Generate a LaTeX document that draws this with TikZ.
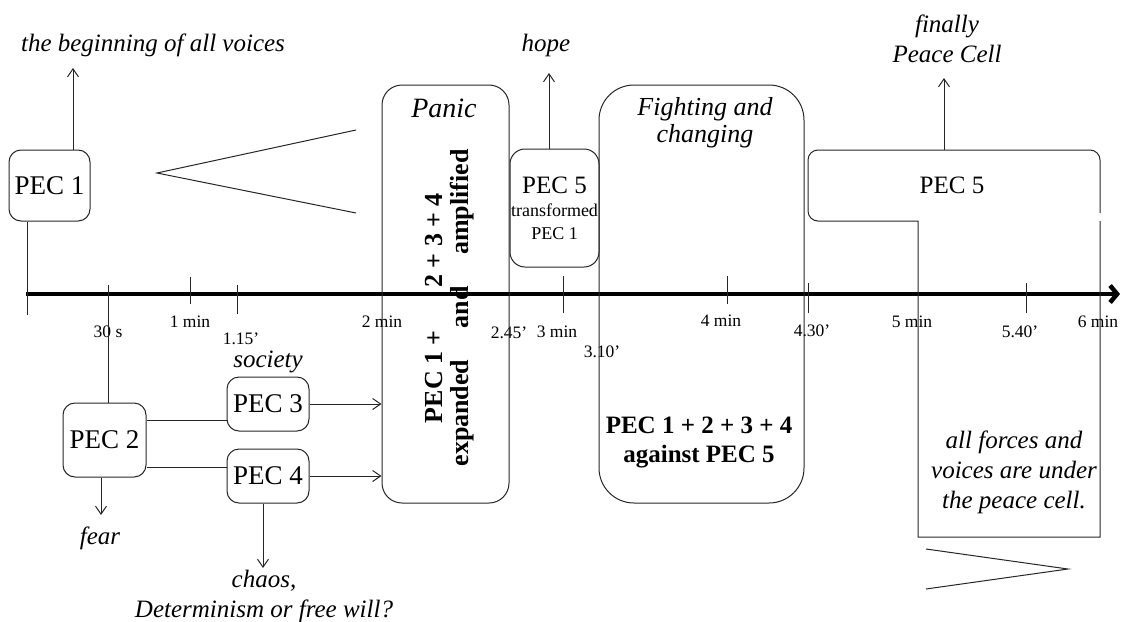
\documentclass[tikz,border=0pt]{standalone}
\usepackage{fontspec}
\setmainfont{Liberation Serif}
\usetikzlibrary{arrows.meta}

\tikzset{
  ln/.style={line width=1pt, draw=black!85},
  pec/.style={ln, rounded corners=12pt, inner sep=0pt, font=\fontsize{27}{30}\selectfont},
  stage/.style={ln, inner sep=0pt},
  lbl/.style={inner sep=0pt, align=center, font=\fontsize{25}{30}\selectfont\itshape},
  tk/.style={inner sep=0pt, anchor=base, font=\fontsize{17.5}{20}\selectfont},
  arr/.style={ln, -{Straight Barb[length=8pt,width=11pt]}},
  timeline/.style={line width=4.5pt, -{Straight Barb[length=7pt,width=17pt]}},
}

\begin{document}
\begin{tikzpicture}[x=1pt,y=-1pt]
\useasboundingbox (0,0) rectangle (1124,621);

% time axis
\coordinate (ax0) at (26,294);
\coordinate (ax1) at (1120,294);
\draw[timeline] (ax0) -- (ax1);
\foreach \x/\a/\b in {190/277/304, 237/285/314, 563/276/313, 727/276/304, 808/283/313, 1026/283/313}
  \draw[ln] (\x,\a) -- (\x,\b);
\foreach \x/\y/\t in {108/337/30 s, 190/327/1 min, 241/344/1.15’, 382/327/2 min, 509/338/2.45’, 557/337/3 min, 602/357/3.10’, 721/326/4 min, 812/336/4.30’, 912/327/5 min, 1020/337/5.40’, 1098/327/6 min}
  \node[tk] (tk\x) at (\x,\y) {\t};

% cells
\node[pec, minimum width=81pt, minimum height=71pt] (pec1) at (49.5,185.5) {PEC 1};
\node[pec, minimum width=83pt, minimum height=74pt] (pec2) at (104.5,440) {PEC 2};
\node[pec, minimum width=82pt, minimum height=54pt] (pec3) at (268,404) {PEC 3};
\node[pec, minimum width=82pt, minimum height=54pt] (pec4) at (268,476) {PEC 4};
\node[pec, rounded corners=15pt, minimum width=89pt, minimum height=118pt, align=center,
  font=\fontsize{18}{23}\selectfont] (pec5a) at (554.5,208)
  {{\fontsize{25}{23}\selectfont PEC 5}\\transformed\\PEC 1};
\node[stage, rounded corners=20pt, minimum width=127pt, minimum height=418pt] (panic) at (445.5,294) {};
\node[stage, rounded corners=35pt, minimum width=205pt, minimum height=418pt] (fight) at (701.5,294) {};

% last cell
\draw[ln] (1100,213) [rounded corners=10pt] -- (1100,150) -- (808,150) -- (808,221)
  [sharp corners] -- (918,221) -- (918,537) -- (1100,537) -- (1100,221);
\node[inner sep=0pt, font=\fontsize{25}{30}\selectfont] (pec5b) at (952,185) {PEC 5};

% texts
\node[lbl] (voices) at (153,45) {the beginning of all voices};
\node[lbl] (hope) at (546,45) {hope};
\node[lbl] (final) at (947,39) {finally\\Peace Cell};
\node[lbl, font=\fontsize{28}{30}\selectfont\itshape] (panictxt) at (444,108) {Panic};
\node[lbl, font=\fontsize{26}{27}\selectfont\itshape] (fighttxt) at (705,123) {Fighting and\\changing};
\node[inner sep=0pt, rotate=90, align=center, font=\fontsize{26}{26}\selectfont\bfseries] (amp) at (449.5,308)
  {\makebox[230pt]{PEC 1 +\hfill 2 + 3 + 4}\\\makebox[317pt]{expanded\hfill and\hfill amplified}};
\node[inner sep=0pt, align=center, font=\fontsize{25}{29}\selectfont\bfseries] (against) at (699,442)
  {PEC 1 + 2 + 3 + 4\\against PEC 5};
\node[lbl] (society) at (268,362) {society};
\node[lbl] (fear) at (100,538) {fear};
\node[lbl] (chaos) at (264,596) {chaos,\\Determinism or free will?};
\node[lbl] (under) at (1014,472) {all forces and\\voices are under\\the peace cell.};

% connectors
\coordinate (c0) at (27,315);
\coordinate (c30) at (108,285);
\coordinate (e1) at (73,68);
\coordinate (e2) at (101,515);
\coordinate (e4) at (263,568);
\coordinate (e5) at (549,73);
\coordinate (top5) at (944,150);
\coordinate (e6) at (944,78);
\coordinate (j3) at ([yshift=-16pt]pec3.west);
\coordinate (j4) at ([yshift=9pt]pec4.west);
\draw[ln] (c0) -- (c0 |- pec1.south);
\draw[ln] (c30) -- (c30 |- pec2.north);
\draw[arr] (e1 |- pec1.north) -- (e1);
\draw[arr] (e2 |- pec2.south) -- (e2);
\draw[arr] (e4 |- pec4.south) -- (e4);
\draw[arr] (e5 |- pec5a.north) -- (e5);
\draw[arr] (top5) -- (e6);
\draw[ln] (j3) -- (j3 -| pec2.east);
\draw[ln] (j4) -- (j4 -| pec2.east);
\draw[arr] (pec3.east) -- (pec3.east -| panic.west);
\draw[arr] (pec4.east) -- (pec4.east -| panic.west);

% the two wedges
\draw[ln] (356,130) -- (157,173) -- (356,213);
\draw[ln] (926,549) -- (1068,569) -- (926,589);
\end{tikzpicture}
\end{document}
